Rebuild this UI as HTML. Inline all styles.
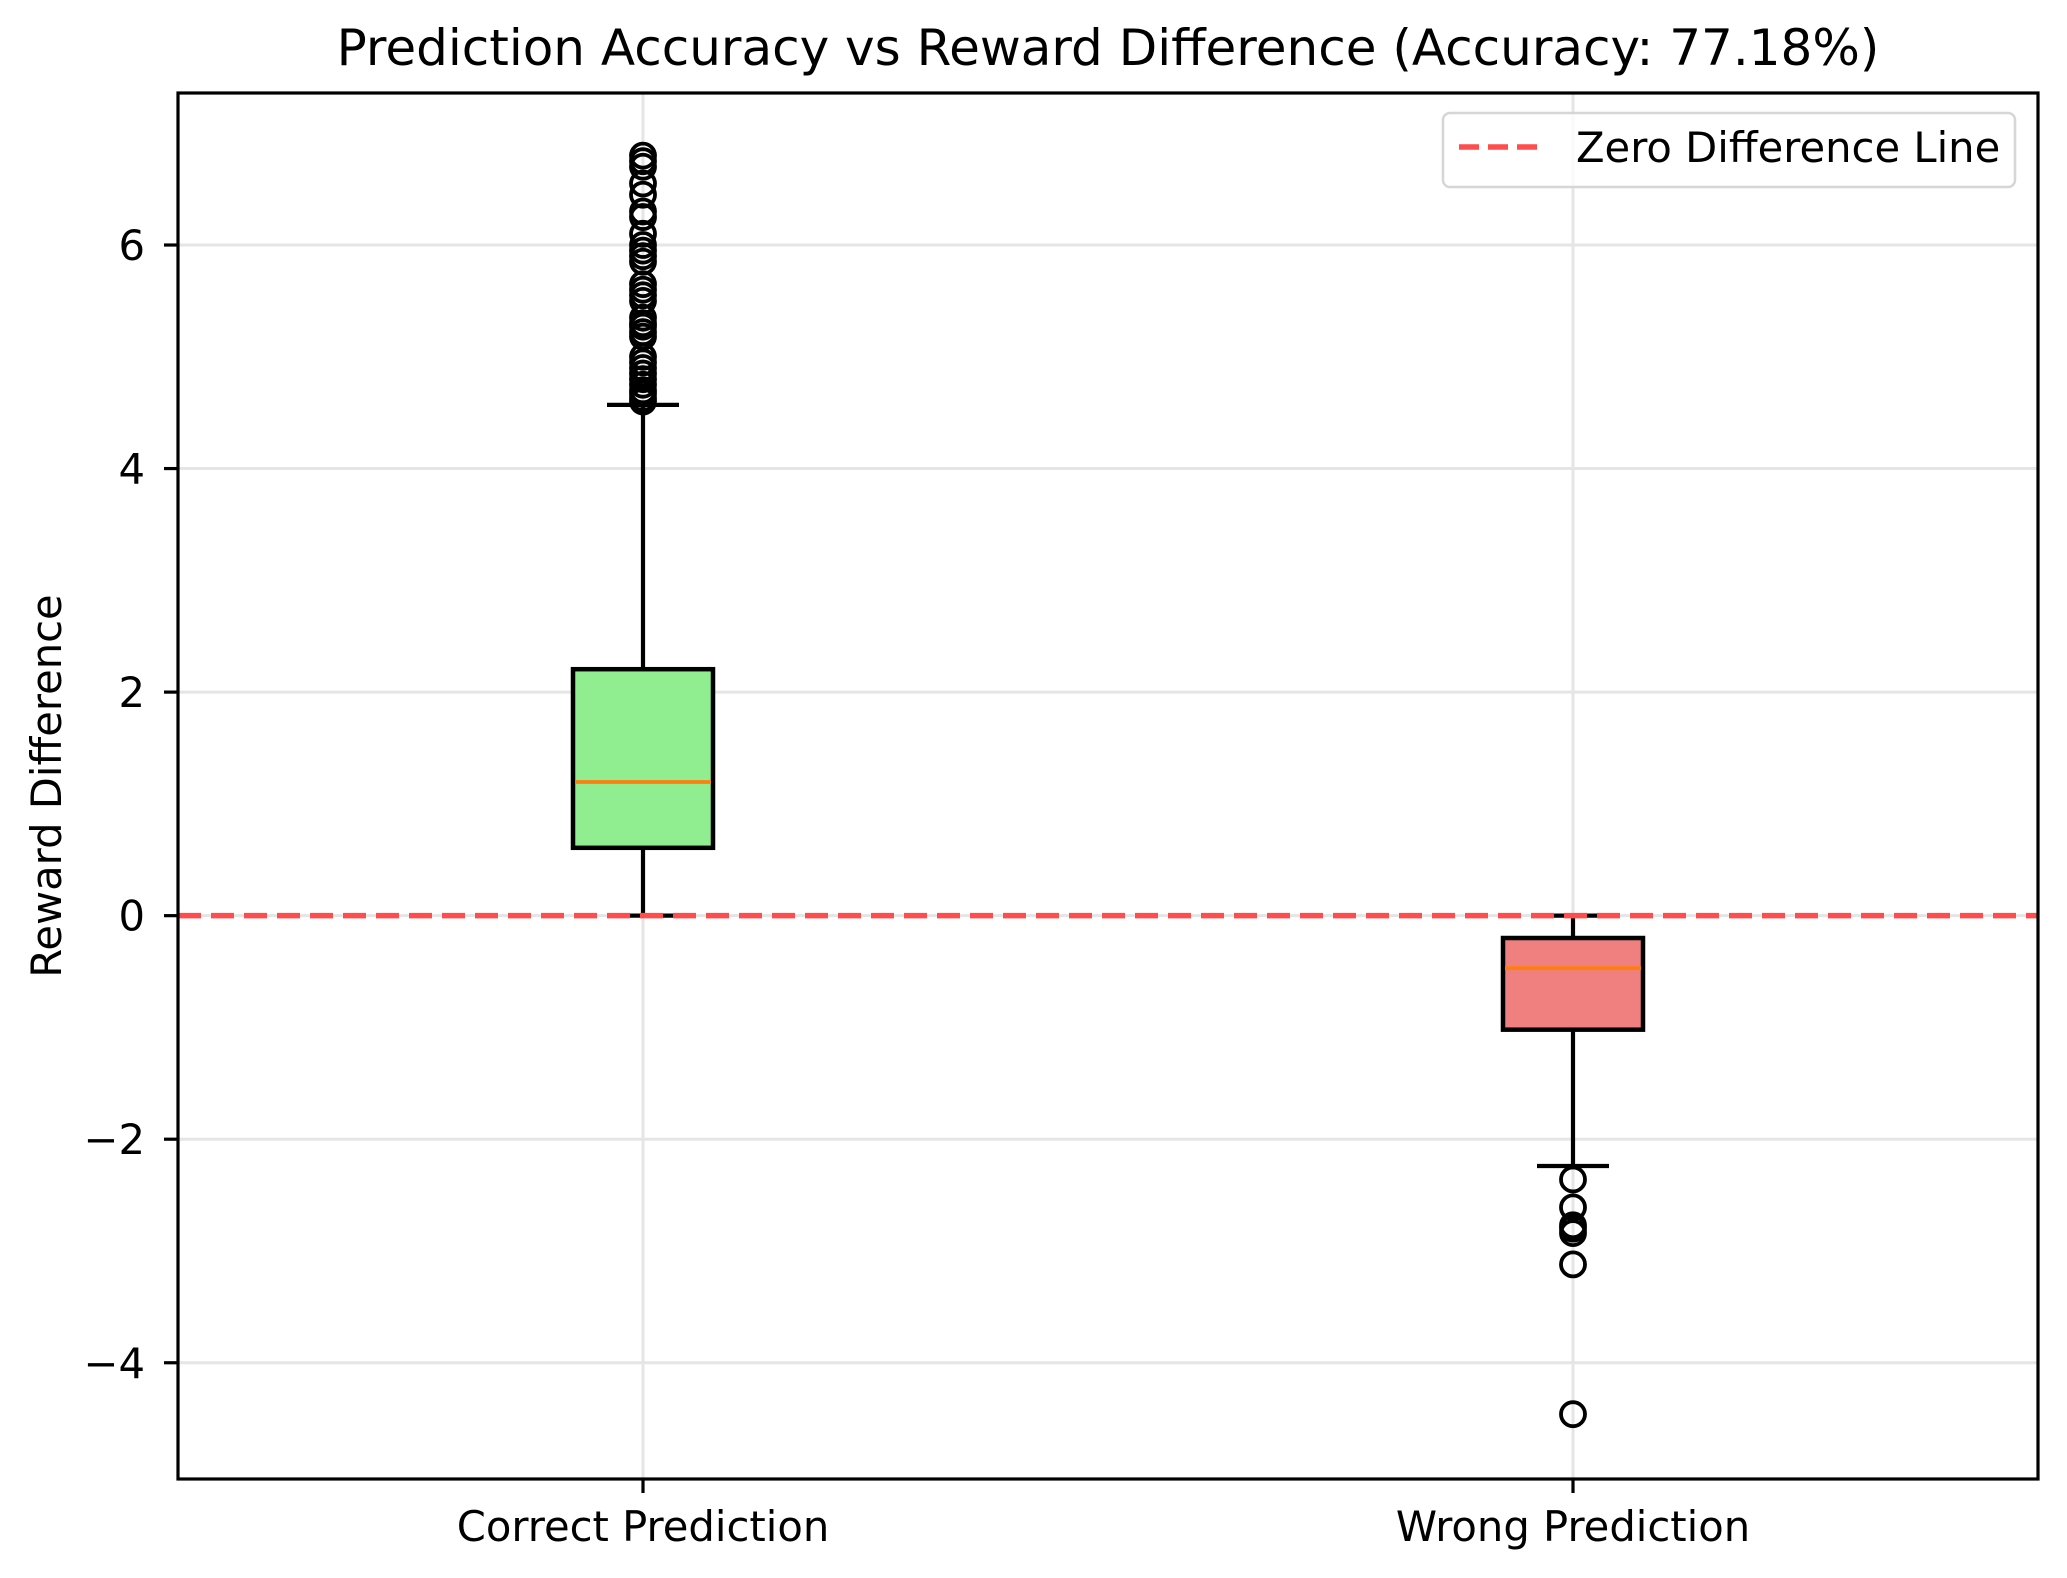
<!DOCTYPE html>
<html><head><meta charset="utf-8"><style>
html,body{margin:0;padding:0;background:#fff;}
svg{display:block;font-family:"DejaVu Sans","Liberation Sans",sans-serif;}
</style></head><body>
<svg id="chart" width="2067" height="1578" viewBox="0 0 2067 1578" xmlns="http://www.w3.org/2000/svg">
<rect x="0" y="0" width="2067" height="1578" fill="#fff"/>
<text x="1108" y="65" text-anchor="middle" font-size="50" fill="#000">Prediction Accuracy vs Reward Difference (Accuracy: 77.18%)</text>
<text transform="translate(61,786) rotate(-90)" text-anchor="middle" font-size="41.7" fill="#000">Reward Difference</text>
<g id="grid"></g>
<g id="marks"></g>
<rect x="178" y="93" width="1860" height="1386" fill="none" stroke="#000" stroke-width="3.2"/>
<g id="ticks"></g>
<g>
<rect x="1443" y="113" width="572" height="74" rx="7" fill="#fff" fill-opacity="0.8" stroke="#d6d6d6" stroke-width="2.5"/>
<line x1="1459" y1="147" x2="1543" y2="147" stroke="#ff4d4d" stroke-width="5.5" stroke-dasharray="20,9"/>
<text x="1576" y="162" font-size="41.7" fill="#000">Zero Difference Line</text>
</g>
</svg>
<script>
const categories = ["Correct Prediction", "Wrong Prediction"];
const boxFill = ["#90ee90", "#f08080"];
const whiskerLow = [0.0, -2.24];
const q1 = [0.607, -1.02];
const median = [1.196, -0.47];
const q3 = [2.205, -0.2];
const whiskerHigh = [4.57, 0.0];
const outliersCorrect = [4.6,4.63,4.67,4.7,4.75,4.8,4.85,4.9,4.95,5.0,5.18,5.22,5.27,5.3,5.35,5.5,5.55,5.6,5.65,5.85,5.9,5.95,6.0,6.1,6.25,6.3,6.45,6.55,6.7,6.75,6.8];
const outliersWrong = [-2.36,-2.61,-2.77,-2.84,-2.8,-3.12,-4.46];
const yTicks = [-4, -2, 0, 2, 4, 6];
const yTickLabels = ["\u22124", "\u22122", "0", "2", "4", "6"];
const zeroLine = 0;

const NS = "http://www.w3.org/2000/svg";
const L = 178, R = 2038, T = 93, B = 1479;
const yMin = -5.04, yMax = 7.36;
function yScale(v){ return B - (v - yMin) / (yMax - yMin) * (B - T); }
function xScale(i){ return L + (i + 1 - 0.5) / 2 * (R - L); }
function mk(tag, attrs, parent){ const e = document.createElementNS(NS, tag); for (const k in attrs) e.setAttribute(k, attrs[k]); parent.appendChild(e); return e; }

const grid = document.getElementById('grid');
const marks = document.getElementById('marks');
const ticks = document.getElementById('ticks');

yTicks.forEach((t, i) => {
  const y = yScale(t);
  const g = mk('line', {x1:L, x2:R, y1:y, y2:y, stroke:'#e5e5e5', 'stroke-width':3}, grid);
  
  
  const tk = mk('line', {x1:L-14, x2:L, y1:y, y2:y, stroke:'#000', 'stroke-width':3.2}, ticks);
  
  
  const tx = mk('text', {x:145, y:y+15, 'text-anchor':'end', 'font-size':41.7, fill:'#000'}, ticks);
  tx.textContent = yTickLabels[i];
  
  
});
categories.forEach((c, i) => {
  const x = xScale(i);
  const g = mk('line', {x1:x, x2:x, y1:T, y2:B, stroke:'#e5e5e5', 'stroke-width':3}, grid);
  
  
  const tk = mk('line', {x1:x, x2:x, y1:B, y2:B+14, stroke:'#000', 'stroke-width':3.2}, ticks);
  
  
  const tx = mk('text', {x:x, y:1541, 'text-anchor':'middle', 'font-size':41.7, fill:'#000'}, ticks);
  tx.textContent = c;
  
  
});

const outliers = [outliersCorrect, outliersWrong];
categories.forEach((c, i) => {
  const x = xScale(i), hw = 70, cw = 36;
  const w1 = mk('line', {x1:x, x2:x, y1:yScale(whiskerLow[i]), y2:yScale(q1[i]), stroke:'#000', 'stroke-width':4.2}, marks);
  
  
  const w2 = mk('line', {x1:x, x2:x, y1:yScale(q3[i]), y2:yScale(whiskerHigh[i]), stroke:'#000', 'stroke-width':4.2}, marks);
  
  
  const c1 = mk('line', {x1:x-cw, x2:x+cw, y1:yScale(whiskerLow[i]), y2:yScale(whiskerLow[i]), stroke:'#000', 'stroke-width':4.2}, marks);
  
  
  const c2 = mk('line', {x1:x-cw, x2:x+cw, y1:yScale(whiskerHigh[i]), y2:yScale(whiskerHigh[i]), stroke:'#000', 'stroke-width':4.2}, marks);
  
  
  const bx = mk('rect', {x:x-hw, y:yScale(q3[i]), width:2*hw, height:yScale(q1[i]) - yScale(q3[i]), fill:boxFill[i], stroke:'#000', 'stroke-width':4.5}, marks);
  
  
  const md = mk('line', {x1:x-hw+2, x2:x+hw-2, y1:yScale(median[i]), y2:yScale(median[i]), stroke:'#ff7f0e', 'stroke-width':3.8}, marks);
  
  
  outliers[i].forEach(v => {
    const o = mk('circle', {cx:x, cy:yScale(v), r:12, fill:'none', stroke:'#000', 'stroke-width':3.8}, marks);
    
    
  });
});
const zl = mk('line', {x1:L, x2:R, y1:yScale(zeroLine), y2:yScale(zeroLine), stroke:'#ff4d4d', 'stroke-width':5.5, 'stroke-dasharray':'23,10'}, marks);


</script>
</body></html>
